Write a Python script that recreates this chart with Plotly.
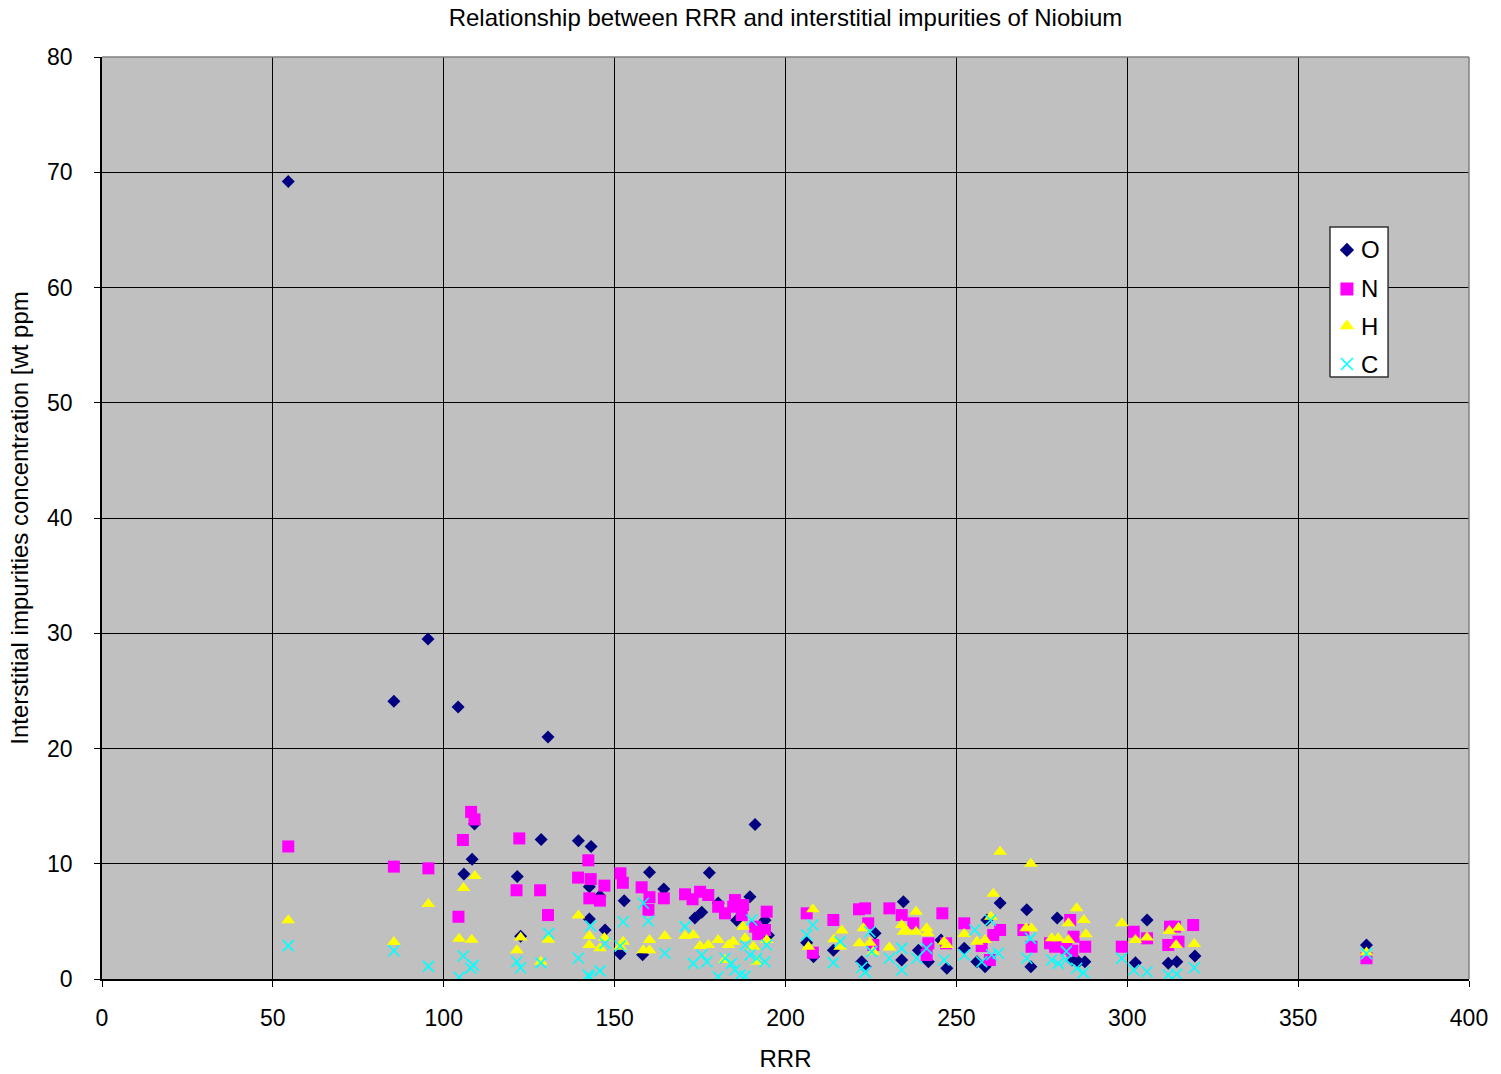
import plotly.graph_objects as go

# Interstitial impurity content (wt ppm) against residual resistivity ratio
o_rrr = [54.5, 85.4, 95.4, 104.2, 105.9, 108.3, 109.0, 121.5, 122.5, 128.5, 130.5, 139.4,
         143.1, 142.6, 145.7, 142.6, 147.2, 151.6, 152.8, 158.2, 160.2, 164.4, 173.5, 175.5,
         177.7, 180.3, 185.7, 189.6, 191.1, 194.0, 195.0, 206.2, 208.2, 214.0, 222.3, 223.3,
         226.2, 234.5, 234.0, 238.9, 241.8, 245.5, 247.2, 252.3, 256.0, 258.4, 258.9, 262.8,
         270.6, 271.8, 279.5, 283.8, 285.7, 287.6, 302.4, 305.8, 312.0, 314.5, 319.8, 370.0]
o_ppm = [69.2, 24.1, 29.5, 23.6, 9.1, 10.4, 13.45, 8.9, 3.7, 12.1, 21.0, 12.0,
         11.5, 8.0, 7.2, 5.2, 4.25, 2.2, 6.8, 2.1, 9.26, 7.8, 5.3, 5.8,
         9.22, 6.6, 5.1, 7.14, 13.4, 5.1, 3.8, 3.15, 1.94, 2.5, 1.5, 1.07,
         3.96, 6.7, 1.65, 2.5, 1.5, 3.38, 0.93, 2.66, 1.5, 1.07, 5.12, 6.6,
         6.0, 1.07, 5.3, 1.65, 1.5, 1.5, 1.4, 5.12, 1.36, 1.5, 2.0, 2.95]

n_rrr = [54.5, 85.4, 95.5, 104.3, 105.6, 108.0, 109.0, 122.1, 121.3, 128.2, 130.5, 142.3,
         139.3, 143.0, 147.0, 142.6, 145.7, 151.7, 152.4, 157.9, 160.2, 159.9, 164.4, 170.6,
         172.8, 175.0, 177.4, 180.3, 182.3, 184.7, 185.2, 187.6, 187.2, 194.5, 191.1, 194.0,
         192.0, 206.2, 208.0, 214.0, 221.5, 223.3, 224.2, 225.7, 230.4, 234.0, 237.4, 241.8,
         241.3, 245.9, 247.0, 252.3, 257.4, 259.8, 260.8, 262.8, 269.6, 272.0, 277.4, 278.9,
         283.3, 284.3, 287.7, 282.2, 283.9, 298.4, 301.9, 305.8, 312.5, 314.0, 312.0, 315.0,
         319.3, 370.0]
n_ppm = [11.5, 9.75, 9.6, 5.4, 12.06, 14.5, 13.85, 12.2, 7.7, 7.7, 5.55, 10.3,
         8.8, 8.67, 8.1, 7.0, 6.8, 9.17, 8.35, 7.96, 7.1, 6.0, 7.0, 7.35,
         6.92, 7.57, 7.29, 6.27, 5.7, 6.27, 6.85, 6.42, 5.55, 5.84, 4.54, 4.25,
         3.9, 5.7, 2.28, 5.12, 6.05, 6.13, 4.83, 2.95, 6.13, 5.55, 4.83, 3.1,
         2.08, 5.7, 3.1, 4.83, 2.86, 1.65, 3.82, 4.25, 4.25, 2.8, 3.1, 2.8,
         5.12, 3.67, 2.8, 2.66, 2.45, 2.8, 4.1, 3.53, 4.54, 4.54, 2.95, 3.24,
         4.68, 1.8]

h_rrr = [54.5, 85.4, 95.5, 104.5, 105.8, 108.2, 109.1, 121.4, 122.5, 128.4, 130.6, 139.4,
         142.6, 142.6, 145.7, 147.0, 151.6, 152.5, 158.4, 160.2, 160.2, 164.7, 170.6, 173.0,
         175.0, 177.4, 180.3, 183.3, 184.7, 187.6, 188.2, 190.6, 191.6, 194.5, 182.3, 206.7,
         208.0, 214.2, 216.5, 216.0, 221.6, 222.8, 224.7, 225.7, 230.4, 234.0, 234.5, 235.3,
         238.2, 238.2, 241.3, 241.6, 246.4, 247.2, 252.3, 256.0, 258.4, 260.1, 260.8, 262.8,
         271.8, 270.4, 272.0, 277.9, 279.8, 282.8, 282.8, 285.2, 287.3, 287.9, 298.4, 302.4,
         305.8, 312.3, 315.0, 314.3, 319.6, 370.0]
h_ppm = [5.1, 3.2, 6.5, 3.5, 7.9, 3.4, 8.94, 2.5, 3.6, 1.5, 3.4, 5.5,
         3.73, 2.95, 2.66, 3.55, 2.8, 3.24, 2.5, 3.38, 2.5, 3.73, 3.73, 3.82,
         2.86, 2.95, 3.38, 2.95, 3.24, 4.54, 3.53, 2.8, 1.5, 3.38, 1.65, 2.8,
         6.05, 3.44, 4.2, 2.8, 3.1, 4.4, 3.15, 2.37, 2.74, 4.68, 4.1, 4.25,
         5.84, 4.1, 4.4, 3.96, 3.24, 2.95, 3.9, 3.24, 3.38, 5.4, 7.4, 11.05,
         10.0, 4.4, 4.4, 3.53, 3.53, 4.83, 3.38, 6.13, 5.12, 3.88, 4.83, 3.38,
         3.6, 4.16, 4.45, 2.95, 3.04, 2.3]

c_rrr = [54.5, 85.4, 95.5, 104.5, 105.7, 108.6, 107.9, 121.4, 122.5, 128.4, 130.7, 139.4,
         143.0, 147.2, 142.6, 145.7, 142.3, 151.6, 152.5, 158.4, 159.9, 164.7, 170.6, 175.5,
         177.0, 173.0, 180.3, 182.3, 184.2, 185.2, 186.7, 188.2, 188.2, 189.6, 190.1, 191.6,
         194.5, 194.0, 206.2, 208.0, 214.0, 216.0, 224.7, 225.2, 222.3, 223.3, 230.4, 234.0,
         234.0, 238.4, 241.3, 246.4, 252.3, 255.4, 257.4, 260.0, 260.3, 262.3, 270.6, 271.7,
         277.9, 279.8, 282.2, 282.2, 285.2, 287.2, 298.4, 301.9, 305.8, 312.0, 314.5, 319.6,
         370.0]
c_ppm = [2.9, 2.45, 1.1, 0.15, 2.0, 1.2, 0.93, 1.5, 0.98, 1.4, 3.96, 1.8,
         4.6, 3.1, 0.2, 0.7, 0.35, 2.86, 4.97, 6.57, 5.03, 2.23, 4.54, 2.08,
         1.5, 1.36, 0.2, 1.8, 1.36, 0.78, 0.35, 0.26, 2.95, 2.08, 5.12, 1.8,
         2.95, 1.5, 3.82, 4.69, 1.42, 3.24, 4.1, 2.37, 1.0, 0.6, 1.8, 2.66,
         0.78, 1.8, 2.66, 1.65, 2.08, 4.25, 1.5, 5.1, 2.08, 2.23, 1.8, 3.53,
         1.65, 1.36, 2.4, 1.65, 0.93, 0.55, 1.8, 0.78, 0.63, 0.35, 0.43, 0.98,
         2.2]

x_ticks = [0, 50, 100, 150, 200, 250, 300, 350, 400]
y_ticks = [0, 10, 20, 30, 40, 50, 60, 70, 80]

FONT = "Liberation Sans, Arial, sans-serif"

series = [
    ("O", o_rrr, o_ppm, dict(symbol="diamond", size=10, color="#000080")),
    ("N", n_rrr, n_ppm, dict(symbol="square", size=12, color="#FF00FF")),
    ("H", h_rrr, h_ppm, dict(symbol="triangle-up", size=12, color="#FFFF00")),
    ("C", c_rrr, c_ppm, dict(symbol="x-thin", size=11, color="#00FFFF",
                             line=dict(color="#00FFFF", width=1.6))),
]

fig = go.Figure()
for name, xs, ys, marker in series:
    fig.add_trace(go.Scatter(x=xs, y=ys, mode="markers", name=name,
                             marker=marker, showlegend=False))

# Compact key box inside the plotting area, drawn on an overlay axis
# that spans the plot area from 0 to 1 in both directions
key_left, key_right = 0.8983, 0.9408
key_top, key_bottom = 0.8156, 0.6529
key_rows = [0.7907, 0.7484, 0.7082, 0.6670]
key_marker_x = 0.9107
key_text_x = 0.9195

fig.add_trace(go.Scatter(
    x=[key_left, key_right, key_right, key_left, key_left],
    y=[key_bottom, key_bottom, key_top, key_top, key_bottom],
    mode="lines", fill="toself", fillcolor="white",
    line=dict(color="#333333", width=1.5),
    xaxis="x2", yaxis="y2", showlegend=False, hoverinfo="skip",
))
for (name, _, _, marker), row in zip(series, key_rows):
    key_marker = dict(marker)
    key_marker["size"] = marker["size"] + 1
    fig.add_trace(go.Scatter(x=[key_marker_x], y=[row], mode="markers",
                             marker=key_marker, xaxis="x2", yaxis="y2",
                             showlegend=False, hoverinfo="skip"))
    fig.add_annotation(x=key_text_x, y=row, xref="x domain", yref="y domain",
                       text=name, showarrow=False, xanchor="left", yanchor="middle",
                       font=dict(family=FONT, size=24, color="black"))

fig.update_layout(
    width=1501, height=1074,
    margin=dict(l=102, r=32, t=57, b=95, autoexpand=False),
    paper_bgcolor="white",
    plot_bgcolor="#C0C0C0",
    font=dict(family=FONT, size=24, color="black"),
    title=dict(
        text="Relationship between RRR and interstitial impurities of Niobium",
        x=(102 + 1469) / 2 / 1501, xanchor="center",
        y=1 - 18 / 1074, yanchor="middle",
        font=dict(family=FONT, size=24, color="black"),
    ),
    showlegend=False,
    xaxis=dict(
        range=[0, 400], tickvals=x_ticks, ticktext=[str(v) for v in x_ticks],
        showgrid=True, gridcolor="black", gridwidth=1,
        showline=True, linecolor="black", linewidth=1.5, mirror=False,
        ticks="outside", ticklen=6, tickcolor="black",
        ticklabelstandoff=12, automargin=False,
        zeroline=False,
        title=dict(text="RRR", standoff=20, font=dict(family=FONT, size=24)),
        tickfont=dict(family=FONT, size=23),
    ),
    yaxis=dict(
        range=[0, 80], tickvals=y_ticks, ticktext=[str(v) for v in y_ticks],
        showgrid=True, gridcolor="black", gridwidth=1,
        showline=True, linecolor="black", linewidth=1.5, mirror=False,
        ticks="outside", ticklen=6, tickcolor="black",
        ticklabelstandoff=17, automargin=False,
        zeroline=False,
        title=dict(text="Interstitial impurities concentration [wt ppm",
                   standoff=12, font=dict(family=FONT, size=24)),
        tickfont=dict(family=FONT, size=23),
    ),
    xaxis2=dict(overlaying="x", range=[0, 1], visible=False, fixedrange=True),
    yaxis2=dict(overlaying="y", range=[0, 1], visible=False, fixedrange=True),
)

# Gray frame on the top and right of the plotting area
fig.add_shape(type="line", xref="paper", yref="paper", x0=0, x1=1, y0=1, y1=1,
              line=dict(color="#808080", width=1.5))
fig.add_shape(type="line", xref="paper", yref="paper", x0=1, x1=1, y0=0, y1=1,
              line=dict(color="#808080", width=1.5))

fig.write_html("out.html")
